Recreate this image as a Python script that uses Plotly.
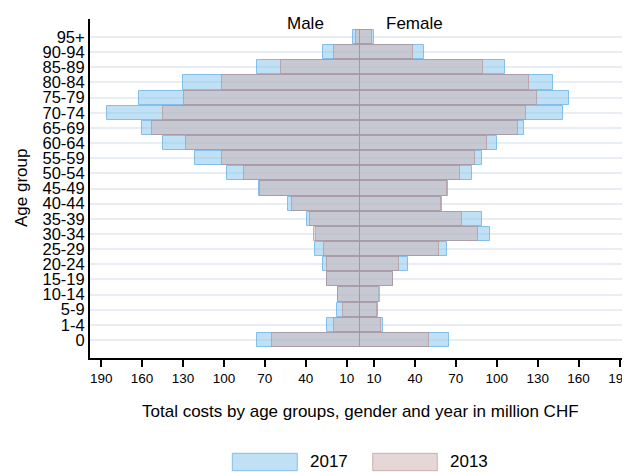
import plotly.graph_objects as go

age_groups = ["0", "1-4", "5-9", "10-14", "15-19", "20-24", "25-29", "30-34", "35-39",
              "40-44", "45-49", "50-54", "55-59", "60-64", "65-69", "70-74", "75-79",
              "80-84", "85-89", "90-94", "95+"]

male_2017 = [76.0, 24.2, 16.9, 16.1, 24.6, 27.1, 33.0, 32.5, 38.9, 52.8, 74.3, 97.9, 121.0,
             144.4, 159.8, 185.9, 162.0, 129.8, 76.0, 27.1, 5.1]
male_2013 = [65.0, 19.3, 12.9, 16.1, 24.2, 24.6, 26.4, 33.7, 36.9, 50.1, 73.8, 85.3, 101.4,
             127.8, 152.7, 144.9, 129.3, 101.6, 58.1, 19.3, 3.2]
female_2017 = [64.8, 16.9, 13.2, 13.9, 23.8, 34.8, 63.3, 95.1, 89.0, 59.7, 64.1, 81.9, 89.0,
               100.4, 120.0, 148.6, 153.2, 141.3, 105.9, 46.7, 10.3]
female_2013 = [50.6, 15.0, 12.0, 14.7, 24.2, 28.6, 57.5, 86.1, 74.8, 59.2, 63.3, 73.1, 83.9,
               92.7, 115.8, 121.3, 129.3, 123.7, 90.2, 38.9, 8.4]

tick_values = [190, 160, 130, 100, 70, 40, 10]

FONT = "Liberation Sans, Arial, sans-serif"
BLUE_FILL = "rgba(130,195,235,0.5)"
BLUE_LINE = "rgba(100,175,230,0.75)"
PINK_FILL = "rgba(205,178,178,0.52)"
PINK_LINE = "rgba(185,135,135,0.6)"

# page body has an 8px default margin: figure placed at (8, 8)
OFF = 8
fig = go.Figure()
W = 0.93
fig.add_trace(go.Bar(y=age_groups, x=[-v for v in male_2017], orientation="h", width=W,
                     marker=dict(color=BLUE_FILL, line=dict(color=BLUE_LINE, width=1)),
                     showlegend=False, name="2017"))
fig.add_trace(go.Bar(y=age_groups, x=female_2017, orientation="h", width=W,
                     marker=dict(color=BLUE_FILL, line=dict(color=BLUE_LINE, width=1)),
                     showlegend=False, name="2017"))
fig.add_trace(go.Bar(y=age_groups, x=[-v for v in male_2013], orientation="h", width=W,
                     marker=dict(color=PINK_FILL, line=dict(color=PINK_LINE, width=1)),
                     showlegend=False, name="2013"))
fig.add_trace(go.Bar(y=age_groups, x=female_2013, orientation="h", width=W,
                     marker=dict(color=PINK_FILL, line=dict(color=PINK_LINE, width=1)),
                     showlegend=False, name="2013"))

tickvals = [-v for v in tick_values] + tick_values[::-1]
ticktext = [str(v) for v in tick_values] + [str(v) for v in tick_values[::-1]]

fig.update_layout(
    width=630 - OFF, height=472 - OFF,
    margin=dict(l=90 - OFF, r=0, t=19 - OFF, b=114, pad=0),
    paper_bgcolor="white", plot_bgcolor="white",
    barmode="overlay",
    font=dict(family=FONT, color="black"),
    xaxis=dict(range=[-198.2, 197.7], tickvals=tickvals, ticktext=ticktext,
               showgrid=False, zeroline=False, showline=True, linecolor="black", linewidth=2,
               ticks="outside", ticklen=7, tickwidth=1.5, tickcolor="black",
               ticklabeloverflow="allow",
               tickfont=dict(size=13.5, family=FONT)),
    yaxis=dict(range=[-1.19, 21.19], tickmode="array", tickvals=age_groups, ticktext=age_groups,
               showgrid=True, gridcolor="#e8eef3", gridwidth=2,
               zeroline=False, showline=True, linecolor="black", linewidth=2,
               ticks="", tickfont=dict(size=16.5, family=FONT)),
    bargap=0,
)

annotations = [
    dict(text="Male", x=(305.7 - 90) / 540, y=(358 - 23) / 339, xref="paper", yref="paper",
         showarrow=False, font=dict(size=17), xanchor="center", yanchor="middle"),
    dict(text="Female", x=(414.7 - 90) / 540, y=(358 - 23) / 339, xref="paper", yref="paper",
         showarrow=False, font=dict(size=17), xanchor="center", yanchor="middle"),
    dict(text="Total costs by age groups, gender and year in million CHF",
         x=(360 - 90) / 540, y=(358 - 411) / 339, xref="paper", yref="paper",
         showarrow=False, font=dict(size=17), xanchor="center", yanchor="middle"),
    dict(text="Age group", x=(21.5 - 90) / 540, y=0.5, xref="paper", yref="paper",
         showarrow=False, font=dict(size=17), textangle=-90, xanchor="center", yanchor="middle"),
    dict(text="2017", x=(308 - 90) / 540, y=(358 - 462) / 339, xref="paper", yref="paper",
         showarrow=False, font=dict(size=17), xanchor="left", yanchor="middle"),
    dict(text="2013", x=(448 - 90) / 540, y=(358 - 462) / 339, xref="paper", yref="paper",
         showarrow=False, font=dict(size=17), xanchor="left", yanchor="middle"),
]
shapes = [
    dict(type="rect", xref="paper", yref="paper",
         x0=(232.3 - 90) / 540, x1=(297.3 - 90) / 540,
         y0=(358 - 470.7) / 339, y1=(358 - 453.3) / 339,
         fillcolor=BLUE_FILL, line=dict(color=BLUE_LINE, width=1)),
    dict(type="rect", xref="paper", yref="paper",
         x0=(372.7 - 90) / 540, x1=(437.3 - 90) / 540,
         y0=(358 - 470.7) / 339, y1=(358 - 453.3) / 339,
         fillcolor=PINK_FILL, line=dict(color=PINK_LINE, width=1)),
]
fig.update_layout(annotations=annotations, shapes=shapes)

fig.write_html("out.html")
